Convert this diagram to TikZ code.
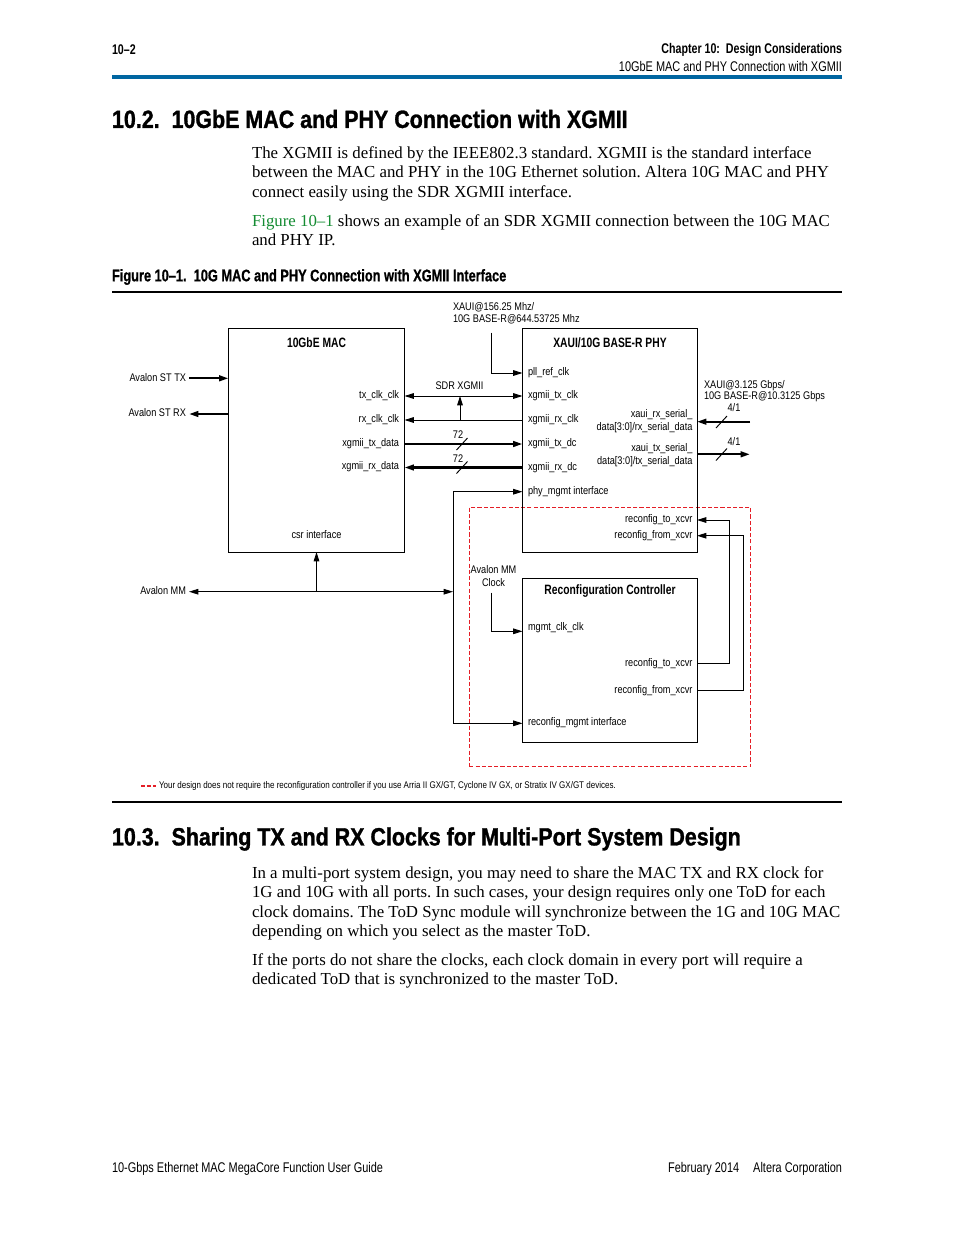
\documentclass[tikz,border=0pt]{standalone}
\usepackage{fontspec}
\setmainfont{Liberation Serif}
\newfontfamily\cnd[FakeStretch=0.78]{Liberation Sans}
\newfontfamily\hcnd[FakeStretch=0.76]{Liberation Sans}
\newfontfamily\scnd[FakeStretch=0.86,FakeBold=1.2]{Liberation Sans}
\newfontfamily\ccnd[FakeStretch=0.76,FakeBold=0.8]{Liberation Sans}
\newfontfamily\dgf[FakeStretch=0.83]{Liberation Sans}
\usetikzlibrary{arrows.meta,fit}
\definecolor{rulblue}{RGB}{0,102,161}
\definecolor{lnkgreen}{RGB}{20,140,50}
\definecolor{dashred}{RGB}{228,30,38}
\frenchspacing
\begin{document}
\begin{tikzpicture}[x=0.642pt,y=-0.642pt,
 every node/.style={inner sep=0pt,outer sep=0pt},
 body/.style={font=\fontsize{10.8}{12.5}\selectfont,anchor=west,text height=7.6pt,text depth=2.3pt},
 hdr/.style={font=\cnd\fontsize{9}{10}\selectfont},
 hdrb/.style={font=\hcnd\bfseries\fontsize{9}{10}\selectfont},
 sect/.style={font=\scnd\bfseries\fontsize{16}{18}\selectfont,anchor=west},
 capt/.style={font=\ccnd\bfseries\fontsize{10.8}{12}\selectfont,anchor=west},
 dl/.style={font=\dgf\fontsize{7.1}{8}\selectfont,text height=5pt,text depth=1.5pt},
 dt/.style={font=\hcnd\bfseries\fontsize{8.7}{9.5}\selectfont},
 blk/.style={draw,line width=0.6pt,fit={#1}},
 tip/.style={-{Triangle[length=6pt,width=3.6pt]}},
 tips/.style={{Triangle[length=6pt,width=3.6pt]}-{Triangle[length=6pt,width=3.6pt]}},
 thn/.style={line width=0.6pt},
 thk/.style={line width=1.4pt},
 slash/.style={line width=0.6pt}
]
\fill[white] (0,0) rectangle (954,1235);
\useasboundingbox (0,0) rectangle (954,1235);

% ---------- page header ----------
\node[hdrb,anchor=west] (pgno) at (112,50) {10–2};
\node[hdrb,anchor=east] (chap) at (842,50) {Chapter 10:\ \ Design Considerations};
\node[hdr,anchor=east] (subh) at (842,66) {10GbE MAC and PHY Connection with XGMII};
\coordinate (hrA) at (112,77); \coordinate (hrB) at (842,77);
\draw[rulblue,line width=2pt] (hrA) -- (hrB);

% ---------- section 10.2 ----------
\node[sect] (t1) at (112,119) {10.2.\ \ 10GbE MAC and PHY Connection with XGMII};
\node[body] (p1a) at (252,154.5) {The XGMII is defined by the IEEE802.3 standard. XGMII is the standard interface};
\node[body] (p1b) at (252,173.5) {between the MAC and PHY in the 10G Ethernet solution. Altera 10G MAC and PHY};
\node[body] (p1c) at (252,193) {connect easily using the SDR XGMII interface.};
\node[body] (p2a) at (252,222) {\textcolor{lnkgreen}{Figure 10–1} shows an example of an SDR XGMII connection between the 10G MAC};
\node[body] (p2b) at (252,241) {and PHY IP.};

\node[capt] (cap) at (112,277) {Figure 10–1.\ \ 10G MAC and PHY Connection with XGMII Interface};
\coordinate (crA) at (112,292); \coordinate (crB) at (842,292);
\draw[line width=1pt] (crA) -- (crB);

% ---------- diagram ----------
% red dashed region
\node[draw=dashred,line width=0.7pt,dash pattern=on 2.6pt off 1.4pt,fit={(469.3,507.3) (750.7,766.7)}] (opt) {};

\node[blk={(228.5,328.3) (404.5,552)}] (mac) {};
\node[blk={(522.5,328.3) (697,552)}] (phy) {};
\node[blk={(522.5,578.7) (697,742)}] (rcf) {};

\node[dt] (macT) at (316.5,342.7) {10GbE MAC};
\node[dt] (phyT) at (610,342.7) {XAUI/10G BASE-R PHY};
\node[dt] (rcfT) at (610,590.7) {Reconfiguration Controller};

% left of MAC
\node[dl,anchor=east] (stTx) at (186,378.3) {Avalon ST TX};
\node[dl,anchor=east] (stRx) at (186,414) {Avalon ST RX};
\node[dl,anchor=east] (amm) at (186,591.7) {Avalon MM};

% MAC ports
\node[dl,anchor=east] (mTxClk) at (399,395.7) {tx\_clk\_clk};
\node[dl,anchor=east] (mRxClk) at (399,420) {rx\_clk\_clk};
\node[dl,anchor=east] (mTxD) at (399,443.5) {xgmii\_tx\_data};
\node[dl,anchor=east] (mRxD) at (399,467) {xgmii\_rx\_data};
\node[dl] (csr) at (316.5,535.7) {csr interface};

% PHY ports left
\node[dl,anchor=west] (pPll) at (528,373) {pll\_ref\_clk};
\node[dl,anchor=west] (pTxClk) at (528,396) {xgmii\_tx\_clk};
\node[dl,anchor=west] (pRxClk) at (528,420) {xgmii\_rx\_clk};
\node[dl,anchor=west] (pTxD) at (528,444) {xgmii\_tx\_dc};
\node[dl,anchor=west] (pRxD) at (528,467.5) {xgmii\_rx\_dc};
\node[dl,anchor=west] (pMg) at (528,491.7) {phy\_mgmt interface};
% PHY ports right
\node[dl,anchor=east] (pRs1) at (692.5,414.3) {xaui\_rx\_serial\_};
\node[dl,anchor=east] (pRs2) at (692.5,427.3) {data[3:0]/rx\_serial\_data};
\node[dl,anchor=east] (pTs1) at (692.5,449) {xaui\_tx\_serial\_};
\node[dl,anchor=east] (pTs2) at (692.5,461.7) {data[3:0]/tx\_serial\_data};
\node[dl,anchor=east] (pRto) at (692.5,520) {reconfig\_to\_xcvr};
\node[dl,anchor=east] (pRfr) at (692.5,535.7) {reconfig\_from\_xcvr};

% reconfig ports
\node[dl,anchor=west] (rClk) at (528,628) {mgmt\_clk\_clk};
\node[dl,anchor=east] (rTo) at (692.5,663.7) {reconfig\_to\_xcvr};
\node[dl,anchor=east] (rFr) at (692.5,690.7) {reconfig\_from\_xcvr};
\node[dl,anchor=west] (rMg) at (528,722.3) {reconfig\_mgmt interface};

% free labels
\node[dl,anchor=west] (pllA) at (453,307.7) {XAUI@156.25 Mhz/};
\node[dl,anchor=west] (pllB) at (453,320) {10G BASE-R@644.53725 Mhz};
\node[dl] (sdr) at (459.5,386.5) {SDR XGMII};
\node[dl] (w72a) at (458,435.7) {72};
\node[dl] (w72b) at (458,459.3) {72};
\node[dl,anchor=west] (serA) at (704,385.7) {XAUI@3.125 Gbps/};
\node[dl,anchor=west] (serB) at (704,397) {10G BASE-R@10.3125 Gbps};
\node[dl] (w41a) at (734,409) {4/1};
\node[dl] (w41b) at (734,443) {4/1};
\node[dl] (ammA) at (493.5,570.3) {Avalon MM};
\node[dl] (ammB) at (493.5,583.3) {Clock};

% connector end points
\coordinate (stTxA) at (189,378.3);  \coordinate (stTxB) at (228.5,378.3);
\coordinate (stRxA) at (228.5,414);  \coordinate (stRxB) at (189,414);
\coordinate (cTxM) at (404.5,396);   \coordinate (cTxP) at (522.5,396);
\coordinate (cRxP) at (522.5,420);   \coordinate (cRxM) at (404.5,420);
\coordinate (brB) at (460,420);      \coordinate (brT) at (460,396);
\coordinate (dTxM) at (404.5,444);   \coordinate (dTxP) at (522.5,444);
\coordinate (dRxP) at (522.5,467.5); \coordinate (dRxM) at (404.5,467.5);
\coordinate (pllS) at (491.7,332.7); \coordinate (pllE) at (522.5,373);
\coordinate (mgTop) at (453,491.7);  \coordinate (mgP) at (522.5,491.7);
\coordinate (mgBot) at (453,723.3);  \coordinate (mgR) at (522.5,723.3);
\coordinate (amL) at (189,591.7);    \coordinate (amR) at (453,591.7);
\coordinate (amJ) at (316.5,591.7);  \coordinate (csrP) at (316.5,552);
\coordinate (ckS) at (491.7,592.7);  \coordinate (ckE) at (522.5,631.3);
\coordinate (rToS) at (697,663.7);   \coordinate (rToL) at (729.3,520);  \coordinate (rToE) at (697,520);
\coordinate (rFrS) at (697,690.7);   \coordinate (rFrL) at (743.3,535.7); \coordinate (rFrE) at (697,535.7);
\coordinate (srxA) at (750,421.7);   \coordinate (srxB) at (697,421.7);
\coordinate (stxA) at (697,454.3);   \coordinate (stxB) at (750,454.3);

% connectors
\draw[thk,tip] (stTxA) -- (stTxB);
\draw[thk,tip] (stRxA) -- (stRxB);
\draw[thn,tips] (cTxM) -- (cTxP);
\draw[thn,tip] (cRxP) -- (cRxM);
\draw[thn,tip] (brB) -- (brT);
\draw[thk,tip] (dTxM) -- (dTxP);
\draw[thk,tip] (dRxP) -- (dRxM);
\draw[thn,tip] (pllS) |- (pllE);
\draw[thn,tip] (mgTop) -- (mgP);
\draw[thn] (mgTop) -- (mgBot);
\draw[thn,tip] (mgBot) -- (mgR);
\draw[thn,tips] (amL) -- (amR);
\draw[thn,tip] (amJ) -- (csrP);
\draw[thn,tip] (ckS) |- (ckE);
\draw[thn,tip] (rToS) -| (rToL) -- (rToE);
\draw[thn,tip] (rFrS) -| (rFrL) -- (rFrE);
\draw[thk,tip] (srxA) -- (srxB);
\draw[thk,tip] (stxA) -- (stxB);
% bus-width slashes
\coordinate (s1a) at (456.5,450); \coordinate (s1b) at (467.5,438);
\coordinate (s2a) at (456.5,473.5); \coordinate (s2b) at (467.5,461.5);
\coordinate (s3a) at (716,428); \coordinate (s3b) at (727,416);
\coordinate (s4a) at (716,460.5); \coordinate (s4b) at (727,448.5);
\draw[slash] (s1a) -- (s1b);
\draw[slash] (s2a) -- (s2b);
\draw[slash] (s3a) -- (s3b);
\draw[slash] (s4a) -- (s4b);

% footnote
\coordinate (fdA) at (141,786); \coordinate (fdB) at (156,786);
\draw[dashred,line width=0.7pt,dash pattern=on 2.4pt off 1.4pt] (fdA) -- (fdB);
\node[font=\dgf\fontsize{6.2}{7}\selectfont,anchor=west] (fn) at (159,786) {Your design does not require the reconfiguration controller if you use Arria II GX/GT, Cyclone IV GX, or Stratix IV GX/GT devices.};
\coordinate (frA) at (112,802); \coordinate (frB) at (842,802);
\draw[line width=1pt] (frA) -- (frB);

% ---------- section 10.3 ----------
\node[sect] (t2) at (112,839) {10.3.\ \ Sharing TX and RX Clocks for Multi-Port System Design};
\node[body] (q1a) at (252,874.5) {In a multi-port system design, you may need to share the MAC TX and RX clock for};
\node[body] (q1b) at (252,893.5) {1G and 10G with all ports. In such cases, your design requires only one ToD for each};
\node[body] (q1c) at (252,913) {clock domains. The ToD Sync module will synchronize between the 1G and 10G MAC};
\node[body] (q1d) at (252,932) {depending on which you select as the master ToD.};
\node[body] (q2a) at (252,961) {If the ports do not share the clocks, each clock domain in every port will require a};
\node[body] (q2b) at (252,980) {dedicated ToD that is synchronized to the master ToD.};

% ---------- footer ----------
\node[hdr,anchor=west] (fl) at (112,1169) {10-Gbps Ethernet MAC MegaCore Function User Guide};
\node[hdr,anchor=east] (fr) at (842,1169) {February 2014\hspace{9pt}Altera Corporation};
\end{tikzpicture}
\end{document}
